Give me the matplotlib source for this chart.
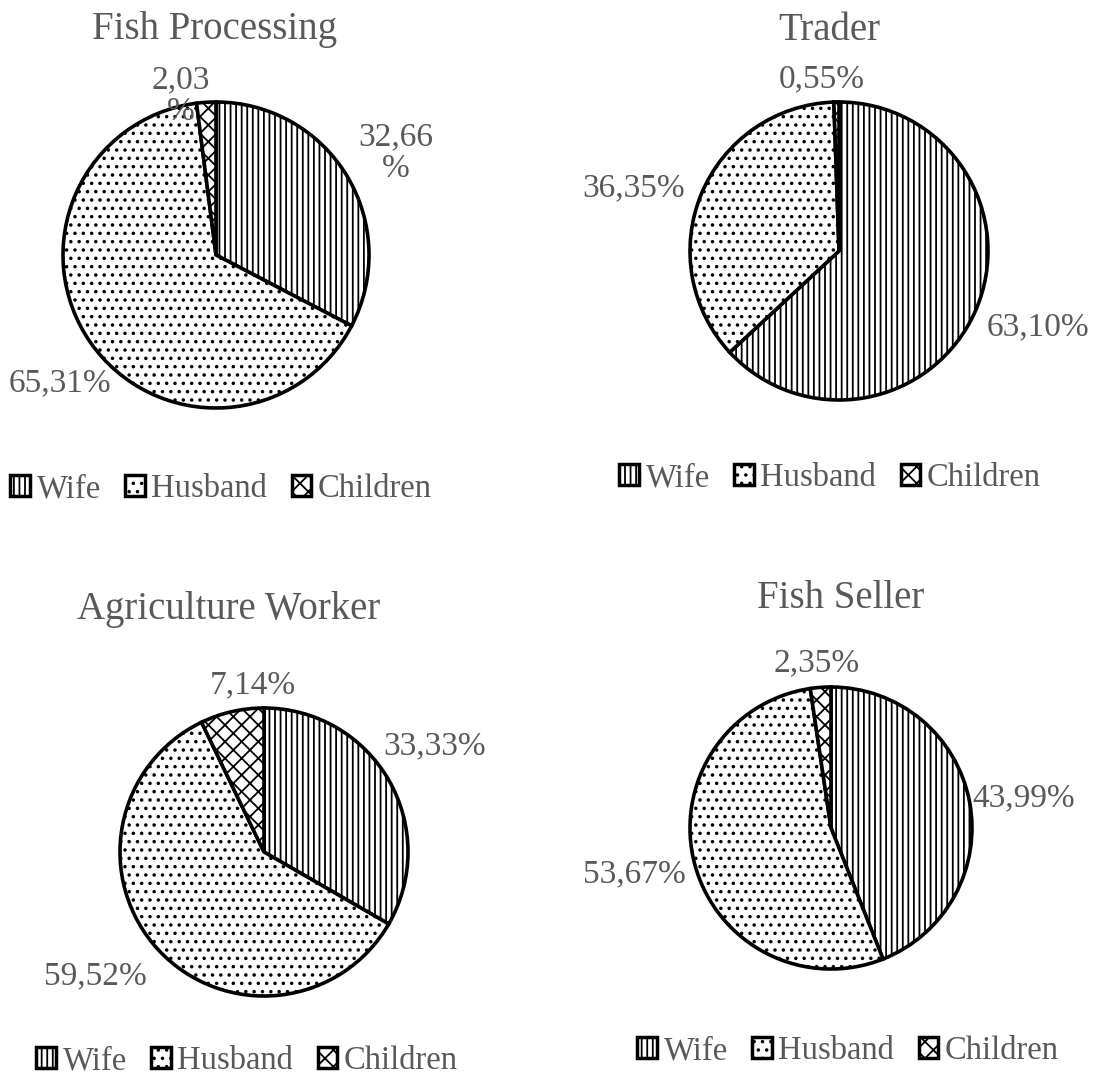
import matplotlib
matplotlib.use("Agg")
import matplotlib.pyplot as plt
from matplotlib.patches import Patch

# ---- data -------------------------------------------------------------
members = ["Wife", "Husband", "Children"]

titles = ["Fish Processing", "Trader", "Agriculture Worker", "Fish Seller"]

fish_processing = [32.66, 65.31, 2.03]
trader = [63.10, 36.35, 0.55]
agriculture_worker = [33.33, 59.52, 7.14]
fish_seller = [43.99, 53.67, 2.35]

# ---- styling / layout -------------------------------------------------
W, H = 1105, 1079
hatches = ["|||", "..", "xx"]
text_color = "#595959"

plt.rcParams["font.family"] = ["Liberation Serif", "DejaVu Serif"]
plt.rcParams["hatch.linewidth"] = 1.3
plt.rcParams["hatch.color"] = "black"

panels = [
    dict(values=fish_processing, title=titles[0],
         center=(216, 255), r=153, title_xy=(215, 29), legend_xy=(221, 489),
         label_xy=[(396, 153), (60, 383), (181, 96)], wrap=[True, False, True]),
    dict(values=trader, title=titles[1],
         center=(839, 251), r=149, title_xy=(829, 31), legend_xy=(830, 478),
         label_xy=[(1038, 327), (634, 188), (822, 79)], wrap=[False, False, False]),
    dict(values=agriculture_worker, title=titles[2],
         center=(264, 852), r=144, title_xy=(229, 609), legend_xy=(247, 1061),
         label_xy=[(435, 746), (95, 976), (253, 685)], wrap=[False, False, False]),
    dict(values=fish_seller, title=titles[3],
         center=(831, 828), r=141, title_xy=(841, 598), legend_xy=(848, 1051),
         label_xy=[(1024, 798), (634, 874), (817, 663)], wrap=[False, False, False]),
]

fig = plt.figure(figsize=(W / 100, H / 100), dpi=100)


def fx(px):
    return px / W


def fy(py):
    return 1 - py / H


def fmt(v, wrap):
    s = f"{v:.2f}".replace(".", ",")
    return s + ("\n%" if wrap else "%")


pad = 1.04
for p in panels:
    cx, cy = p["center"]
    r = p["r"] * pad
    ax = fig.add_axes([fx(cx - r), fy(cy + r), 2 * r / W, 2 * r / H])
    wedges, _ = ax.pie(p["values"], startangle=90, counterclock=False,
                       colors=["white"] * 3,
                       wedgeprops=dict(edgecolor="black", linewidth=2.6))
    for w, h in zip(wedges, hatches):
        w.set_hatch(h)
    ax.set_xlim(-pad, pad)
    ax.set_ylim(-pad, pad)
    ax.set_aspect("equal")
    ax.axis("off")

    fig.text(fx(p["title_xy"][0]), fy(p["title_xy"][1]), p["title"],
             ha="center", va="center", fontsize=28, color=text_color)

    for v, (lx, ly), wr in zip(p["values"], p["label_xy"], p["wrap"]):
        fig.text(fx(lx), fy(ly), fmt(v, wr), ha="center", va="center",
                 fontsize=24, color=text_color, linespacing=1.05)

    handles = [Patch(facecolor="white", edgecolor="black", linewidth=2.5,
                     hatch=h, label=m) for h, m in zip(hatches, members)]
    fig.legend(handles=handles, loc="center",
               bbox_to_anchor=(fx(p["legend_xy"][0]), fy(p["legend_xy"][1])),
               ncol=3, frameon=False, fontsize=23.5, labelcolor=text_color,
               handlelength=0.6, handleheight=0.6, handletextpad=0.2,
               columnspacing=0.75, borderpad=0)

fig.savefig("out.png", dpi=100, facecolor="white")
